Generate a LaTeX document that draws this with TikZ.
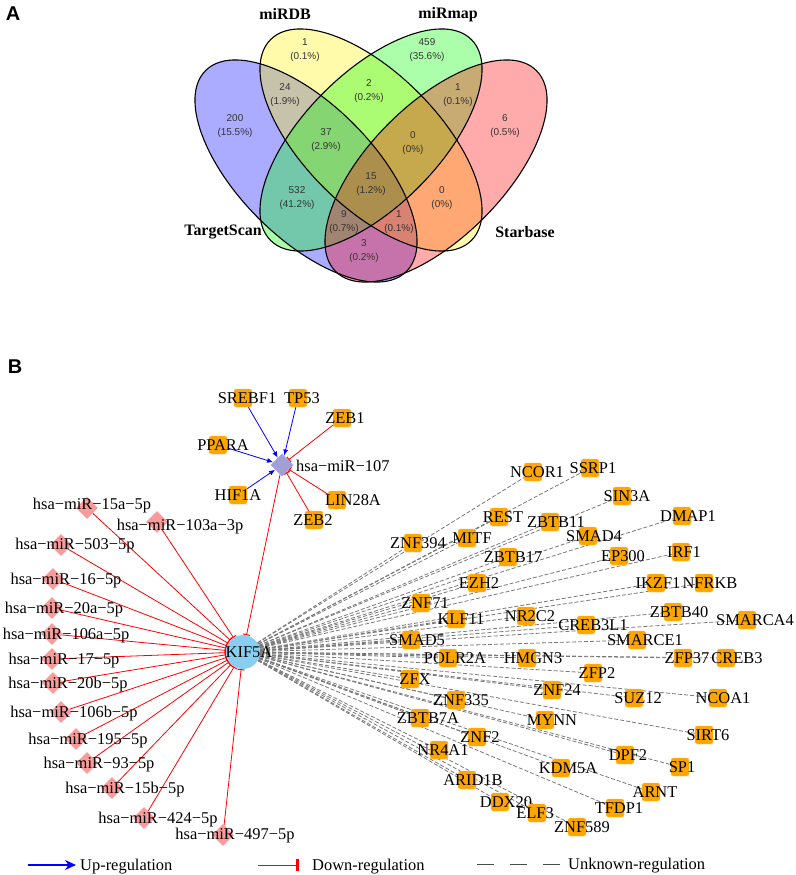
\documentclass[tikz,border=0pt]{standalone}
\usepackage{fontspec}
\setmainfont{Liberation Serif}
\newfontfamily\vennsans{Liberation Sans}
\usetikzlibrary{shapes.geometric,arrows.meta,backgrounds}

\definecolor{tforange}{RGB}{255,165,0}
\definecolor{mirpink}{RGB}{250,155,155}
\definecolor{mirlav}{RGB}{160,160,215}
\definecolor{kifblue}{RGB}{135,206,240}
\definecolor{unkgray}{RGB}{120,120,120}

\tikzset{
  panel/.style={font=\vennsans\bfseries\fontsize{20}{20}\selectfont, inner sep=0pt},
  count/.style={font=\vennsans\fontsize{10}{13.5}\selectfont, align=center, text=black!80, inner sep=0pt},
  setname/.style={font=\bfseries\fontsize{16}{16}\selectfont, inner sep=0pt},
  lbl/.style={font=\fontsize{16.5}{16.5}\selectfont, inner sep=0pt, text height=11bp, text depth=0bp},
  tfbox/.style={rectangle, rounded corners=2.5bp, fill=tforange, draw=tforange!75!white,
    minimum size=18bp, inner sep=0pt},
  mirbox/.style={diamond, fill=mirpink, minimum size=22bp, inner sep=0pt},
  upreg/.style={blue, line width=0.8bp, -{Latex[length=6bp,width=5bp]}},
  downreg/.style={red, line width=0.8bp, -{Bar[width=7bp,line width=1bp]}},
  unkreg/.style={unkgray, line width=0.8bp, dash pattern=on 4bp off 2bp},
}

\begin{document}
\begin{tikzpicture}[x=1bp,y=-1bp]
\useasboundingbox (0,0) rectangle (796,875);

% ---- A: Venn diagram
\node[panel] (pA) at (13,14) {A};
\foreach \c/\x/\y/\r in {blue/306/171/-45, yellow/371/140/-45, green/371/140/45, red/436/171/45}
  \fill[\c, fill opacity=0.33, rotate around={\r:(\x,\y)}] (\x,\y) ellipse [x radius=142bp, y radius=67bp];
\foreach \x/\y/\r in {306/171/-45, 371/140/-45, 371/140/45, 436/171/45}
  \draw[line width=1.1bp, rotate around={\r:(\x,\y)}] (\x,\y) ellipse [x radius=142bp, y radius=67bp];

\foreach \n/\x/\y/\t in {v1/305/50/{1\\(0.1\%)}, v2/427/50/{459\\(35.6\%)},
    v3/285/95/{24\\(1.9\%)}, v4/369/91/{2\\(0.2\%)}, v5/458/95/{1\\(0.1\%)},
    v6/235/126/{200\\(15.5\%)}, v7/326/140/{37\\(2.9\%)}, v8/413/143/{0\\(0\%)},
    v9/505/126/{6\\(0.5\%)}, v10/371/184/{15\\(1.2\%)}, v11/297/198/{532\\(41.2\%)},
    v12/442/198/{0\\(0\%)}, v13/344/222/{9\\(0.7\%)}, v14/399/222/{1\\(0.1\%)},
    v15/364/251/{3\\(0.2\%)}}
  \node[count] (\n) at (\x,\y) {\t};

\node[setname] (sRDB) at (285,14) {miRDB};
\node[setname] (sMap) at (448,15) {miRmap};
\node[setname] (sTS) at (223,232) {TargetScan};
\node[setname] (sSB) at (525,232) {Starbase};

% ---- B: regulatory network
\node[panel] (pB) at (15,367) {B};

\node[circle, fill=kifblue, minimum size=34bp, inner sep=0pt] (KIF5A) at (243,652) {};
\node[lbl] (KIF5A-t) at (249,652) {KIF5A};

\node[diamond, fill=mirlav, minimum size=23bp, inner sep=0pt] (m107) at (282,465) {};
\node[lbl, anchor=west] (m107-t) at (296,466) {hsa−miR−107};

% miRNAs targeting KIF5A
\foreach \n/\x/\y/\tx/\ty/\t in {m15a/87/508/92/504/hsa−miR−15a−5p,
    m103a/157/522/180/525/hsa−miR−103a−3p, m503/61/545/75/544/hsa−miR−503−5p,
    m16/53/579/66/579/hsa−miR−16−5p, m20a/52/608/64/608/hsa−miR−20a−5p,
    m106a/52/634/66/634/hsa−miR−106a−5p, m17/52/659/64/659/hsa−miR−17−5p,
    m20b/53/683/68/683/hsa−miR−20b−5p, m106b/61/712/74/712/hsa−miR−106b−5p,
    m195/76/739/88/739/hsa−miR−195−5p, m93/87/763/99/763/hsa−miR−93−5p,
    m15b/112/788/125/788/hsa−miR−15b−5p, m424/144/818/158/818/hsa−miR−424−5p,
    m497/223/835/235/834/hsa−miR−497−5p}
{
  \node[mirbox] (\n) at (\x,\y) {};
  \node[lbl] (\n-t) at (\tx,\ty) {\t};
}

% regulators of miR-107
\foreach \n/\x/\y/\d in {SREBF1/243/398/4, TP53/298/398/4, ZEB1/342/418/3,
    PPARA/218/445/5, HIF1A/238/495/0, LIN28A/337/500/16, ZEB2/314/520/-1}
{
  \node[tfbox] (\n) at (\x,\y) {};
  \node[lbl] (\n-t) at ([xshift=\d bp]\n.center) {\n};
}

% transcription factors of KIF5A
\foreach \n/\x/\y/\d in {NCOR1/533/472/4, SSRP1/590/468/3, SIN3A/622/496/5,
    REST/499/517/4, ZBTB11/550/522/6, DMAP1/682/516/6, ZNF394/413/543/5,
    MITF/467/538/5, SMAD4/588/536/6, ZBTB17/508/557/5, EP300/619/556/4,
    IRF1/681/552/3, EZH2/477/583/2, IKZF1/656/583/2, NFRKB/704/583/6,
    ZNF71/421/603/4, KLF11/456/619/5, NR2C2/526/616/4, CREB3L1/586/625/7,
    ZBTB40/673/612/6, SMARCA4/747/620/8, SMAD5/411/640/6, SMARCE1/637/640/8,
    POLR2A/448/658/7, HMGN3/527/658/6, ZFP37/683/658/4, CREB3/726/658/11,
    ZFP2/593/673/4, ZFX/410/679/5, ZNF24/552/690/5, SUZ12/634/698/4,
    NCOA1/718/698/5, ZNF335/456/700/5, ZBTB7A/420/718/8, MYNN/545/720/7,
    ZNF2/477/737/3, SIRT6/704/735/4, NR4A1/439/750/4, DPF2/625/755/3,
    KDM5A/561/768/7, SP1/680/767/2, ARID1B/467/780/6, ARNT/651/792/4,
    DDX20/500/802/6, TFDP1/615/808/4, ELF3/537/813/-2, ZNF589/577/827/5}
{
  \node[tfbox] (\n) at (\x,\y) {};
  \node[lbl] (\n-t) at ([xshift=\d bp]\n.center) {\n};
}

\begin{pgfonlayer}{background}
  \foreach \n in {NCOR1, SSRP1, SIN3A, REST, ZBTB11, DMAP1, ZNF394, MITF, SMAD4,
      ZBTB17, EP300, IRF1, EZH2, IKZF1, NFRKB, ZNF71, KLF11, NR2C2, CREB3L1,
      ZBTB40, SMARCA4, SMAD5, SMARCE1, POLR2A, HMGN3, ZFP37, CREB3, ZFP2, ZFX,
      ZNF24, SUZ12, NCOA1, ZNF335, ZBTB7A, MYNN, ZNF2, SIRT6, NR4A1, DPF2, KDM5A,
      SP1, ARID1B, ARNT, DDX20, TFDP1, ELF3, ZNF589}
    \draw[unkreg] (KIF5A) -- (\n);
  \foreach \n in {m15a, m103a, m503, m16, m20a, m106a, m17, m20b, m106b, m195,
      m93, m15b, m424, m497, m107}
    \draw[downreg] (\n) -- (KIF5A);
  \foreach \n in {SREBF1, TP53, PPARA, HIF1A}
    \draw[upreg] (\n) -- (m107);
  \foreach \n in {ZEB1, LIN28A, ZEB2}
    \draw[downreg] (\n) -- (m107);
\end{pgfonlayer}

% legend
\coordinate (lgUpA) at (28,865);
\coordinate (lgUpB) at (76,865);
\draw[blue, line width=1.2bp, -{Stealth[length=11bp,width=10bp]}] (lgUpA) -- (lgUpB);
\node[lbl, anchor=west] (lgUp) at (80,865) {Up-regulation};
\coordinate (lgDnA) at (258,865);
\coordinate (lgDnB) at (299,865);
\draw[red, line width=1bp, -{Bar[width=12bp,line width=3.5bp]}] (lgDnA) -- (lgDnB);
\node[lbl, anchor=west] (lgDn) at (312,865) {Down-regulation};
\coordinate (lgUnA) at (477,864);
\coordinate (lgUnB) at (560,864);
\draw[black!70, line width=1bp, dash pattern=on 16.5bp off 16.5bp] (lgUnA) -- (lgUnB);
\node[lbl, anchor=west] (lgUn) at (568,864) {Unknown-regulation};
\end{tikzpicture}
\end{document}
